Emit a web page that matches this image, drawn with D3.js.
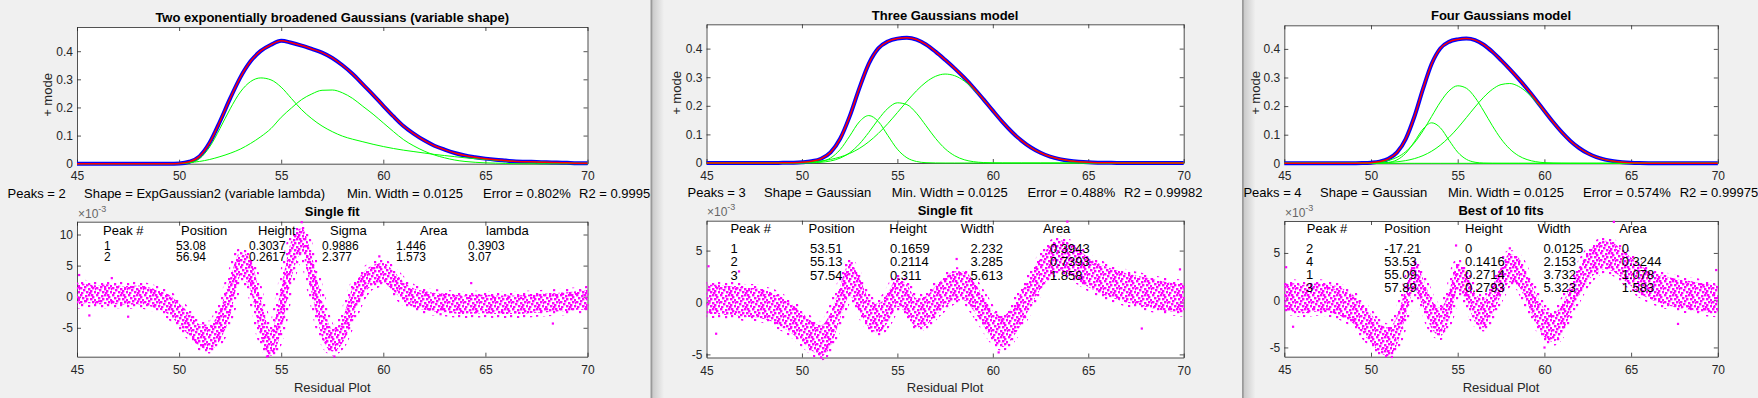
<!DOCTYPE html>
<html>
<head>
<meta charset="utf-8">
<title>Peak fitting comparison</title>
<script src="https://d3js.org/d3.v7.min.js"></script>
<style>
  body { margin: 0; background: #f0f0f0; }
  svg text { font-family: "Liberation Sans", Arial, sans-serif; }
</style>
</head>
<body>
<script>
// ---- data -------------------------------------------------------------
// every curve is sampled on the same x grid
var xGrid = [45,45.5,46,46.5,47,47.5,48,48.5,49,49.5,50,50.5,51,51.5,52,52.5,53,53.5,54,54.5,
  55,55.5,56,56.5,57,57.5,58,58.5,59,59.5,60,60.5,61,61.5,62,62.5,63,63.5,64,64.5,
  65,65.5,66,66.5,67,67.5,68,68.5,69,69.5,70];
var xTicks = [45, 50, 55, 60, 65, 70];
var topTicks = [0, 0.1, 0.2, 0.3, 0.4];

// panel 1 : two exp-broadened gaussians
var p1CompA = [0,0,0,0,0,0,0,0,0,0,0,0.003,0.018,0.060,0.125,0.195,0.255,0.292,0.305,0.298,
  0.272,0.232,0.192,0.160,0.134,0.114,0.098,0.087,0.078,0.069,0.061,0.054,0.048,0.043,0.038,0.033,0.029,0.025,0.021,0.018,
  0.015,0.012,0.010,0.008,0.007,0.006,0.005,0.004,0.003,0.002,0.002];
var p1CompB = [0,0,0,0,0,0,0,0,0,0,0.001,0.004,0.008,0.015,0.025,0.037,0.052,0.072,0.096,0.125,
  0.165,0.198,0.228,0.248,0.261,0.262,0.252,0.232,0.204,0.176,0.145,0.114,0.085,0.063,0.045,0.031,0.021,0.013,0.008,0.005,
  0.003,0.002,0.001,0,0,0,0,0,0,0,0];
var p1Fit = [0,0,0,0,0,0,0,0,0,0,0.001,0.007,0.026,0.075,0.150,0.232,0.307,0.364,0.401,0.423,
  0.437,0.430,0.420,0.408,0.395,0.376,0.350,0.319,0.282,0.245,0.206,0.168,0.133,0.106,0.083,0.064,0.050,0.038,0.029,0.023,
  0.018,0.014,0.011,0.008,0.007,0.006,0.005,0.004,0.003,0.002,0.002];
// residual cloud, lower / upper edge (x1e-3)
var p1ResLo = [-1.3,-1.0,-1.2,-1.2,-1.2,-1.3,-1.2,-1.5,-2.0,-2.9,-4.5,-6.3,-8.0,-8.5,-7.0,-3.0,3.2,1.0,-6.5,-9.5,
  -5.5,3.0,7.0,0.5,-6.5,-8.8,-7.5,-3.5,0.2,1.9,2.2,0.9,-0.8,-1.7,-2.1,-2.4,-2.5,-2.7,-2.8,-2.7,
  -2.7,-2.8,-2.8,-2.8,-2.7,-2.6,-2.5,-2.4,-2.3,-2.1,-2.1];
var p1ResHi = [2.3,2.0,1.8,2.0,1.8,1.7,1.8,1.5,1.0,0.3,-1.1,-2.7,-4.4,-4.5,-2.0,3.0,7.2,6.0,-0.5,-5.5,
  1.5,9.0,11.0,6.5,-0.5,-5.2,-3.5,1.5,3.8,5.1,5.4,4.1,2.4,1.3,0.9,0.6,0.5,0.3,0.2,0.3,
  0.3,0.2,0.2,0.2,0.3,0.4,0.5,0.6,0.7,0.9,1.1];
var p1Stray = [[45.1,3.5],[45.6,-3.0],[46.7,3.0],[47.5,-3.2],[54.3,-9.6],[56.0,12.0],[57.6,-9.6],[59.8,6.5],[64.3,2.2],[68.3,-4.3],[62.8,-2.8]];

// panel 2 : three gaussians
var p2Comp1 = [0,0,0,0,0,0,0,0,0,0,0.0002,0.0011,0.0050,0.0175,0.0466,0.0940,0.1436,0.1659,0.1452,0.0962,
  0.0482,0.0183,0.0053,0.0011,0.0002,0,0,0,0,0,0,0,0,0,0,0,0,0,0,0,
  0,0,0,0,0,0,0,0,0,0,0];
var p2Comp2 = [0,0,0,0,0,0,0,0,0,0,0.0002,0.0009,0.0026,0.0071,0.0171,0.0357,0.0659,0.1068,0.1523,0.1909,
  0.2105,0.2041,0.1741,0.1305,0.0861,0.0499,0.0255,0.0114,0.0045,0.0016,0.0005,0.0001,0,0,0,0,0,0,0,0,
  0,0,0,0,0,0,0,0,0,0,0];
var p2Comp3 = [0,0,0,0,0,0.0001,0.0001,0.0002,0.0005,0.0011,0.0021,0.0040,0.0072,0.0126,0.0209,0.0333,0.0507,0.0740,0.1033,0.1379,
  0.1763,0.2156,0.2524,0.2828,0.3031,0.3110,0.3053,0.2868,0.2578,0.2218,0.1826,0.1439,0.1085,0.0783,0.0540,0.0357,0.0226,0.0137,0.0079,0.0044,
  0.0023,0.0012,0.0006,0.0003,0.0001,0,0,0,0,0,0];
var p2Fit = [0,0,0,0,0,0.0001,0.0001,0.0002,0.0005,0.0011,0.0025,0.0060,0.0148,0.0372,0.0846,0.1630,0.2602,0.3467,0.4008,0.4250,
  0.4350,0.4380,0.4318,0.4144,0.3894,0.3609,0.3308,0.2982,0.2623,0.2234,0.1831,0.1440,0.1085,0.0783,0.0540,0.0357,0.0226,0.0137,0.0079,0.0044,
  0.0023,0.0012,0.0006,0.0003,0.0001,0,0,0,0,0,0];
var p2ResLo = [-1.1,-1.1,-1.2,-1.2,-1.4,-1.4,-1.6,-1.9,-2.4,-3.0,-3.8,-4.6,-5.2,-4.2,-1.6,0.6,-0.8,-2.4,-2.9,-1.9,
  -0.4,-1.1,-2.4,-2.2,-1.2,-0.4,0.2,0.2,-0.8,-2.2,-3.6,-4.3,-3.5,-2.0,-0.3,1.3,2.5,3.0,2.7,2.1,
  1.5,1.0,0.6,0.3,0.0,-0.2,-0.4,-0.6,-0.8,-0.9,-1.0];
var p2ResHi = [1.7,1.7,1.6,1.6,1.4,1.4,1.2,0.9,0.4,-0.2,-1.0,-1.8,-2.2,-1.0,1.6,3.8,2.4,0.4,-0.1,0.9,
  2.4,1.7,0.4,0.6,1.6,2.4,3.0,3.0,2.0,0.6,-0.8,-1.3,-0.5,1.0,2.7,4.3,5.5,6.0,5.7,5.1,
  4.3,3.8,3.4,3.1,2.8,2.6,2.4,2.2,2.0,1.9,1.8];
var p2Stray = [[45.1,3.5],[45.5,-3.0],[46.7,3.0],[51.0,-5.3],[52.6,3.8],[58.1,4.2],[60.3,-4.8],[63.9,7.8],[67.8,-2.5],[69.8,3.2]];

// panel 3 : four gaussians (peak 2 collapsed to zero)
var p3Comp4 = [0,0,0,0,0,0,0,0,0,0,0.0001,0.0006,0.0031,0.0120,0.0349,0.0751,0.1197,0.1415,0.1241,0.0807,
  0.0389,0.0139,0.0037,0.0007,0.0001,0,0,0,0,0,0,0,0,0,0,0,0,0,0,0,
  0,0,0,0,0,0,0,0,0,0,0];
var p3Comp1 = [0,0,0,0,0,0,0,0,0.0002,0.0005,0.0016,0.0041,0.0097,0.0209,0.0405,0.0714,0.1137,0.1641,0.2142,0.2532,
  0.2710,0.2625,0.2302,0.1827,0.1313,0.0854,0.0503,0.0268,0.0130,0.0057,0.0022,0.0008,0.0003,0.0001,0,0,0,0,0,0,
  0,0,0,0,0,0,0,0,0,0,0];
var p3Comp3 = [0,0,0,0,0,0,0,0,0.0001,0.0003,0.0006,0.0013,0.0027,0.0051,0.0094,0.0163,0.0269,0.0424,0.0635,0.0907,
  0.1233,0.1597,0.1969,0.2312,0.2585,0.2752,0.2790,0.2693,0.2476,0.2167,0.1807,0.1434,0.1084,0.0780,0.0535,0.0349,0.0217,0.0128,0.0072,0.0039,
  0.0020,0.0010,0.0004,0.0002,0.0001,0,0,0,0,0,0];
var p3Comp2 = [0,0,0,0,0,0,0,0,0,0,0,0,0,0,0,0,0,0,0,0,0,0,0,0,0,0,0,0,0,0,
  0,0,0,0,0,0,0,0,0,0,0,0,0,0,0,0,0,0,0,0,0];
var p3Fit = [0,0,0,0,0,0,0,0,0.0003,0.0008,0.0023,0.0060,0.0155,0.0380,0.0848,0.1628,0.2603,0.3480,0.4018,0.4246,
  0.4332,0.4361,0.4308,0.4146,0.3899,0.3606,0.3293,0.2961,0.2606,0.2224,0.1829,0.1442,0.1087,0.0781,0.0535,0.0349,0.0217,0.0128,0.0072,0.0039,
  0.0020,0.0010,0.0004,0.0002,0.0001,0,0,0,0,0,0];
var p3ResLo = [-1.2,-1.2,-1.4,-1.3,-1.2,-1.3,-1.5,-1.9,-2.5,-3.5,-4.5,-5.5,-5.9,-4.7,-1.7,1.1,-0.7,-3.0,-3.8,-2.1,
  0.9,0.0,-2.3,-2.9,-1.5,0.5,1.9,1.5,-0.3,-2.3,-3.9,-4.4,-3.5,-1.5,0.5,2.0,2.9,3.3,3.0,2.3,
  1.5,0.7,0.2,-0.2,-0.5,-0.7,-0.9,-1.0,-1.2,-1.3,-1.4];
var p3ResHi = [1.8,1.8,1.6,1.7,1.8,1.7,1.5,1.1,0.5,-0.5,-1.5,-2.5,-2.9,-1.7,1.3,4.1,2.3,0.0,-0.8,0.9,
  3.9,3.0,0.7,0.1,1.5,3.5,4.9,4.5,2.7,0.7,-0.9,-1.4,-0.5,1.5,3.5,5.0,5.9,6.3,6.0,5.3,
  4.5,3.7,3.2,2.8,2.5,2.3,2.1,2.0,1.8,1.7,1.6];
var p3Stray = [[45.1,3.5],[45.5,-2.8],[51.2,-6.0],[54.9,5.8],[58.0,5.5],[60.0,-5.0],[64.0,8.3],[67.7,-2.5],[69.9,3.2]];

// texts
var titles = ["Two exponentially broadened Gaussians (variable shape)", "Three Gaussians model", "Four Gaussians model"];
var subTitles = ["Single fit", "Single fit", "Best of 10 fits"];
var infoLines = [
  ["Peaks = 2", "Shape = ExpGaussian2 (variable lambda)", "Min. Width = 0.0125", "Error = 0.802%", "R2 = 0.9995"],
  ["Peaks = 3", "Shape = Gaussian", "Min. Width = 0.0125", "Error = 0.488%", "R2 = 0.99982"],
  ["Peaks = 4", "Shape = Gaussian", "Min. Width = 0.0125", "Error = 0.574%", "R2 = 0.99975"]
];
var tableHeads = [
  ["Peak #", "Position", "Height", "Sigma", "Area", "lambda"],
  ["Peak #", "Position", "Height", "Width", "Area"],
  ["Peak #", "Position", "Height", "Width", "Area"]
];
var tableRows = [
  [["1","53.08","0.3037","0.9886","1.446","0.3903"], ["2","56.94","0.2617","2.377","1.573","3.07"]],
  [["1","53.51","0.1659","2.232","0.3943"], ["2","55.13","0.2114","3.285","0.7393"], ["3","57.54","0.311","5.613","1.858"]],
  [["2","-17.21","0","0.0125","0"], ["4","53.53","0.1416","2.153","0.3244"], ["1","55.09","0.2714","3.732","1.078"], ["3","57.89","0.2793","5.323","1.583"]]
];
var resTicks = [[-5, 0, 5, 10], [-5, 0, 5], [-5, 0, 5]];

var panels = [
  {comps: [p1CompA, p1CompB], fit: p1Fit, lo: p1ResLo, hi: p1ResHi, stray: p1Stray},
  {comps: [p2Comp1, p2Comp2, p2Comp3], fit: p2Fit, lo: p2ResLo, hi: p2ResHi, stray: p2Stray},
  {comps: [p3Comp2, p3Comp4, p3Comp1, p3Comp3], fit: p3Fit, lo: p3ResLo, hi: p3ResHi, stray: p3Stray}
];

// ---- layout (pixels) --------------------------------------------------
var layout = [
  {x0: 77, x1: 587.5, tTop: 27, tBot: 163.7, topMax: 0.486, bTop: 221.7, bBot: 356.7, resDom: [-9.65, 12.06],
   titleY: 17.5, ylabX: 47, ylabY: 95, infoY: 193, infoX: [7.6, 84, 347, 483, 579],
   subY: 211.7, expX: 78, expY: 214, rowFont: 12,
   headY: 230, headX: [103, 181, 258, 330, 420, 486], cellX: [104, 176, 249, 322, 396, 468], rowY: [246, 257]},
  {x0: 706.5, x1: 1183.7, tTop: 24.3, tBot: 163, topMax: 0.485, bTop: 220.7, bBot: 357.5, resDom: [-5.3, 7.88],
   titleY: 15, ylabX: 676.7, ylabY: 93, infoY: 192.7, infoX: [687.5, 764, 891.8, 1027.5, 1124],
   subY: 210.7, expX: 707, expY: 212, rowFont: 13,
   headY: 228.3, headX: [730.4, 808.6, 889.3, 960.7, 1042.9], cellX: [730.4, 810, 890, 970.4, 1050], rowY: [248.3, 261.3, 275]},
  {x0: 1284.3, x1: 1717.8, tTop: 25.3, tBot: 163.3, topMax: 0.4825, bTop: 221, bBot: 356.7, resDom: [-5.98, 8.38],
   titleY: 15, ylabX: 1255.5, ylabY: 93, infoY: 192.7, infoX: [1243.4, 1320, 1448, 1583, 1679.7],
   subY: 210.7, expX: 1285, expY: 213, rowFont: 13,
   headY: 228.3, headX: [1306.8, 1384.3, 1465, 1537.4, 1619.2], cellX: [1306, 1384.3, 1465, 1543.4, 1621.7], rowY: [248.3, 261.3, 274.3, 287.7]}
];

var FONT = '"Liberation Sans", Arial, sans-serif';
var INK = "#262626";

var svg = d3.select("body").append("svg").attr("width", 1758).attr("height", 398);
svg.append("rect").attr("width", 1758).attr("height", 398).attr("fill", "#f0f0f0");

var defs = svg.append("defs");
// dotted fills used for the dense residual scatter
var dense = defs.append("pattern").attr("id", "dots").attr("patternUnits", "userSpaceOnUse")
  .attr("width", 16).attr("height", 14);
[[0,0],[5,1],[8,0],[12,2],[2,3],[6,4],[10,4],[14,5],[0,7],[4,6],[8,8],[12,7],
 [3,9],[6,11],[10,10],[14,11],[1,12],[9,12],[15,8],[11,0]].forEach(function(p) {
  dense.append("rect").attr("x", p[0]).attr("y", p[1]).attr("width", 2.4).attr("height", 2.4).attr("fill", "#ff00ff");
});
var sparse = defs.append("pattern").attr("id", "fewdots").attr("patternUnits", "userSpaceOnUse")
  .attr("width", 13).attr("height", 11);
[[0,0],[7,3],[3,7],[10,8]].forEach(function(p) {
  sparse.append("rect").attr("x", p[0]).attr("y", p[1]).attr("width", 2.2).attr("height", 2.2).attr("fill", "#ff00ff");
});
var grad = defs.append("linearGradient").attr("id", "shade");
grad.append("stop").attr("offset", "0%").attr("stop-color", "#c9c9c9");
grad.append("stop").attr("offset", "100%").attr("stop-color", "#f0f0f0");

// window edges between the three figures (drawn first, texts sit on top)
[651, 1242.5].forEach(function(sx) {
  svg.append("rect").attr("x", sx + 1).attr("y", 0).attr("width", 12).attr("height", 398).attr("fill", "url(#shade)");
  svg.append("rect").attr("x", sx - 0.5).attr("y", 0).attr("width", 1.8).attr("height", 398).attr("fill", "#9a9a9a");
});

function styleAxis(sel) {
  sel.attr("font-family", FONT).attr("font-size", 12);
  sel.selectAll("path, line").attr("stroke", INK).attr("stroke-width", 0.8);
  sel.selectAll("text").attr("fill", INK);
}

function drawFrame(g, x, y, yTicks, top, bot, xPad) {
  g.append("rect").attr("x", x.range()[0]).attr("y", top)
    .attr("width", x.range()[1] - x.range()[0]).attr("height", bot - top).attr("fill", "#fff");
  g.append("g").attr("transform", "translate(0," + bot + ")")
    .call(d3.axisBottom(x).tickValues(xTicks).tickSizeInner(-4).tickSizeOuter(0).tickPadding(xPad).tickFormat(String))
    .call(styleAxis);
  g.append("g").attr("transform", "translate(0," + top + ")")
    .call(d3.axisTop(x).tickValues(xTicks).tickSizeInner(-4).tickSizeOuter(0).tickFormat(""))
    .call(styleAxis);
  g.append("g").attr("transform", "translate(" + x.range()[0] + ",0)")
    .call(d3.axisLeft(y).tickValues(yTicks).tickSizeInner(-4).tickSizeOuter(0).tickPadding(4).tickFormat(String))
    .call(styleAxis);
  g.append("g").attr("transform", "translate(" + x.range()[1] + ",0)")
    .call(d3.axisRight(y).tickValues(yTicks).tickSizeInner(-4).tickSizeOuter(0).tickFormat(""))
    .call(styleAxis);
}

panels.forEach(function(p, i) {
  var L = layout[i];
  var g = svg.append("g");
  var x = d3.scaleLinear().domain([45, 70]).range([L.x0, L.x1]);
  var yT = d3.scaleLinear().domain([0, L.topMax]).range([L.tBot, L.tTop]);
  var yB = d3.scaleLinear().domain(L.resDom).range([L.bBot, L.bTop]);
  var cx = (L.x0 + L.x1) / 2;

  // ---- top: signal, components, fit
  drawFrame(g, x, yT, topTicks, L.tTop, L.tBot, 8);
  var line = d3.line().x(function(d, k) { return x(xGrid[k]); }).y(function(d) { return yT(d); })
    .curve(d3.curveMonotoneX);
  g.append("path").attr("d", line(p.fit)).attr("fill", "none").attr("stroke", "#0000ff").attr("stroke-width", 4);
  p.comps.forEach(function(c) {
    g.append("path").attr("d", line(c)).attr("fill", "none").attr("stroke", "#00ff00").attr("stroke-width", 1);
  });
  g.append("path").attr("d", line(p.fit)).attr("fill", "none").attr("stroke", "#ff0000").attr("stroke-width", 1.5);

  g.append("text").attr("x", cx).attr("y", L.titleY).attr("text-anchor", "middle")
    .attr("dominant-baseline", "central").attr("font-weight", "bold").attr("font-size", 13).attr("fill", "#000")
    .text(titles[i]);
  g.append("text").attr("transform", "translate(" + L.ylabX + "," + L.ylabY + ") rotate(-90)")
    .attr("text-anchor", "middle").attr("dominant-baseline", "central").attr("font-size", 13).attr("fill", INK)
    .text("+ mode");
  infoLines[i].forEach(function(t, k) {
    g.append("text").attr("x", L.infoX[k]).attr("y", L.infoY).attr("dominant-baseline", "central")
      .attr("font-size", 13).attr("fill", "#000").text(t);
  });

  // ---- bottom: residuals
  drawFrame(g, x, yB, resTicks[i], L.bTop, L.bBot, 9);
  var clipId = "clip" + i;
  defs.append("clipPath").attr("id", clipId).append("rect")
    .attr("x", L.x0).attr("y", L.bTop - 3).attr("width", L.x1 - L.x0 + 1).attr("height", L.bBot - L.bTop + 6);
  var area = d3.area().x(function(d, k) { return x(xGrid[k]); })
    .y0(function(d, k) { return yB(p.lo[k]); }).y1(function(d, k) { return yB(p.hi[k]); })
    .curve(d3.curveMonotoneX);
  var cloud = g.append("g").attr("clip-path", "url(#" + clipId + ")");
  cloud.append("path").attr("d", area(p.lo)).attr("fill", "none")
    .attr("stroke", "url(#fewdots)").attr("stroke-width", 8);
  cloud.append("path").attr("d", area(p.lo)).attr("fill", "url(#dots)");
  cloud.selectAll(null).data(p.stray).enter().append("rect")
    .attr("x", function(d) { return x(d[0]) - 1; }).attr("y", function(d) { return yB(d[1]) - 1; })
    .attr("width", 2.2).attr("height", 2.2).attr("fill", "#ff00ff");

  g.append("text").attr("x", cx).attr("y", L.subY).attr("text-anchor", "middle")
    .attr("dominant-baseline", "central").attr("font-weight", "bold").attr("font-size", 13).attr("fill", "#000")
    .text(subTitles[i]);
  var ex = g.append("text").attr("x", L.expX).attr("y", L.expY).attr("dominant-baseline", "central")
    .attr("font-size", 12).attr("fill", "#666");
  ex.append("tspan").text("\u00d710");
  ex.append("tspan").attr("dy", -5).attr("font-size", 9).text("-3");
  g.append("text").attr("x", cx).attr("y", 387.7).attr("text-anchor", "middle")
    .attr("dominant-baseline", "central").attr("font-size", 13).attr("fill", INK).text("Residual Plot");

  tableHeads[i].forEach(function(t, k) {
    g.append("text").attr("x", L.headX[k]).attr("y", L.headY).attr("dominant-baseline", "central")
      .attr("font-size", 13).attr("fill", "#000").text(t);
  });
  tableRows[i].forEach(function(row, r) {
    row.forEach(function(t, k) {
      g.append("text").attr("x", L.cellX[k]).attr("y", L.rowY[r]).attr("dominant-baseline", "central")
        .attr("font-size", L.rowFont).attr("fill", "#000").text(t);
    });
  });
});
</script>
</body>
</html>
